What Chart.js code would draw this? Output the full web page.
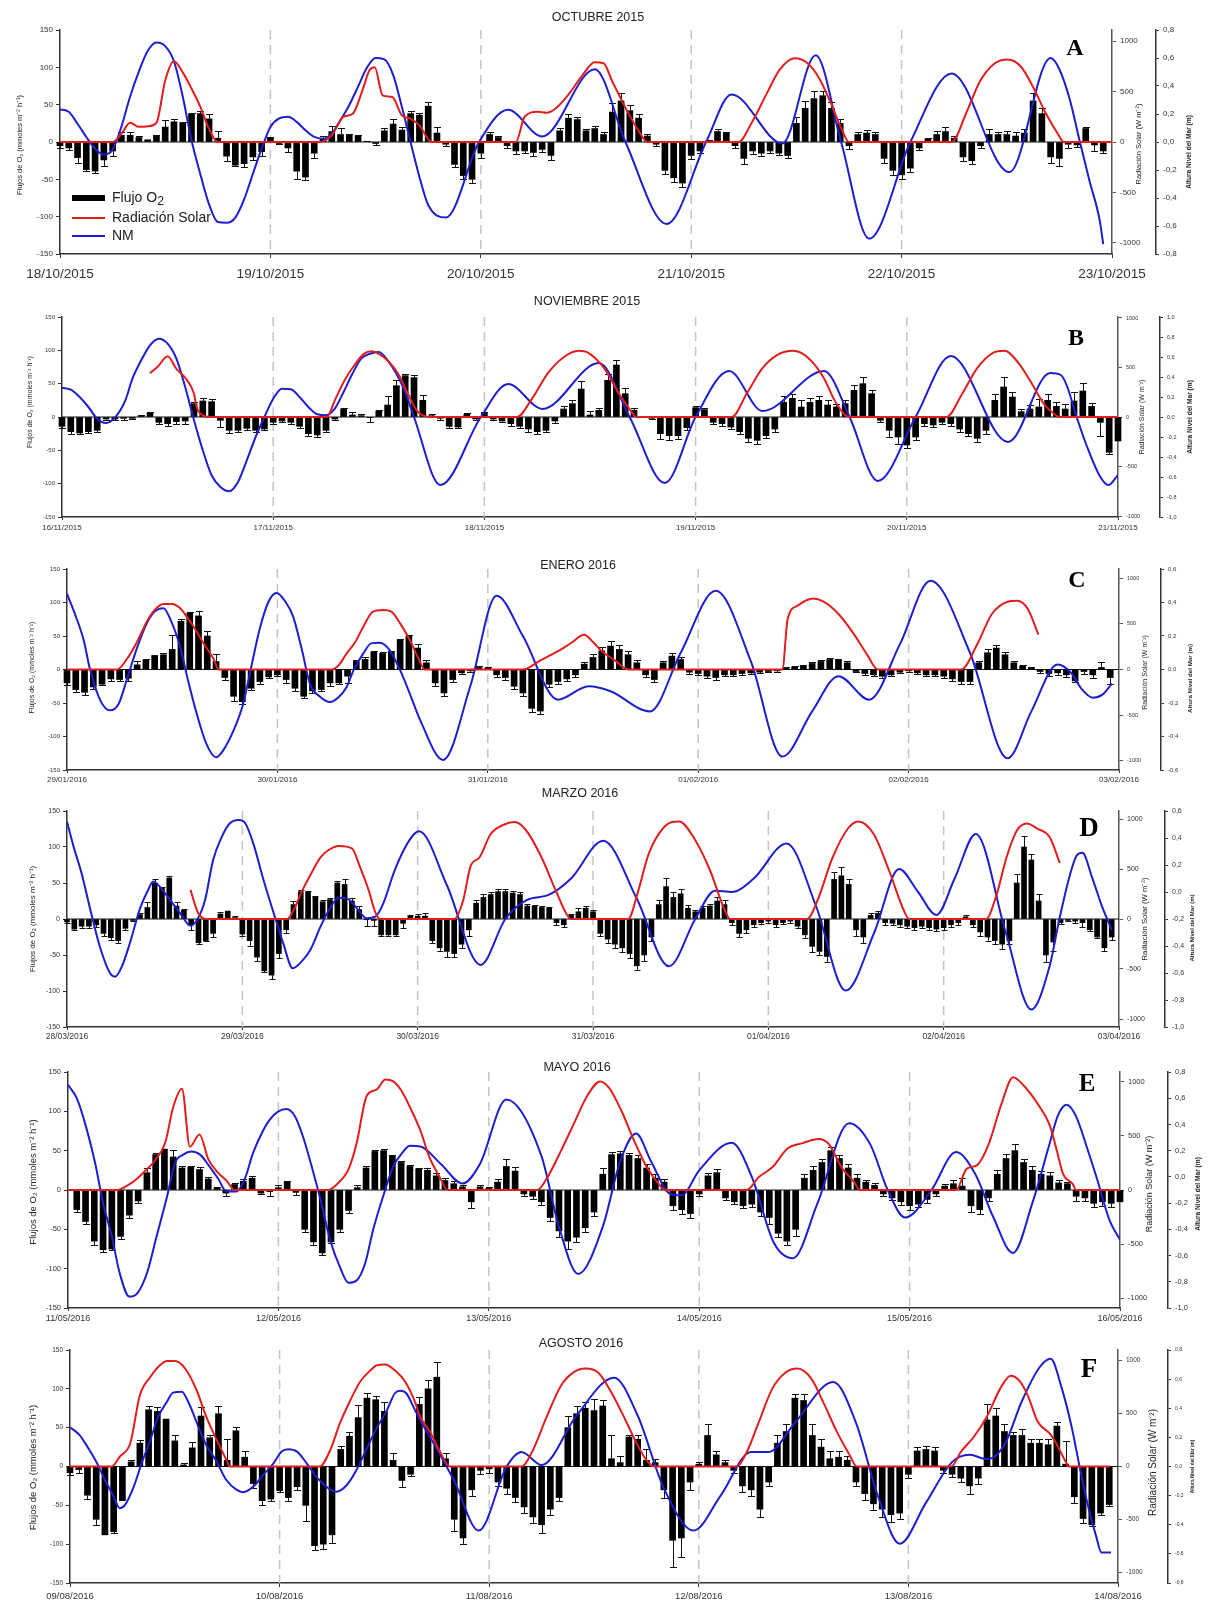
<!DOCTYPE html>
<html><head><meta charset="utf-8">
<script src="https://cdn.jsdelivr.net/npm/chart.js@4.4.1/dist/chart.umd.min.js"></script>
<style>
html,body{margin:0;padding:0;background:#fff;}
#wrap{position:relative;width:1209px;height:1604px;overflow:hidden;font-family:"Liberation Sans",Arial,Helvetica,sans-serif;}
#wrap canvas{position:absolute;left:0;}
.ttl{position:absolute;font-size:12.5px;line-height:14px;color:#222;transform:translateX(-50%);white-space:nowrap;}
.let{position:absolute;font-family:"Liberation Serif","Times New Roman",serif;font-weight:bold;line-height:1;transform:translate(-50%,-50%);color:#000;}
.lg{position:absolute;left:72px;font-size:14px;line-height:18px;color:#222;white-space:nowrap;}
.lg i{display:inline-block;width:33px;vertical-align:middle;margin-right:7px;}
</style></head>
<body><div id="wrap"></div>
<script>
// ---------------- DATA ----------------
const fluxTicks = [-150,-100,-50,0,50,100,150];
const radTicks = [-1000,-500,0,500,1000];

// Panel A  OCTUBRE 2015
const datesA = ["18/10/2015","19/10/2015","20/10/2015","21/10/2015","22/10/2015","23/10/2015"];
const nmTicksA = [-0.8,-0.6,-0.4,-0.2,0,0.2,0.4,0.6,0.8];
const fluxA = [-5,-8,-21,-37,-39,-24,-12,9,9,6,3,8,20,27,26,38,38,31,5,-19,-31,-29,-20,-13,
6,-2,-8,-39,-47,-15,4,14,10,9,9,1,-2,15,24,16,38,36,48,12,-3,-30,-45,-50,
-15,10,6,-5,-12,-12,-14,-10,-18,15,32,30,15,18,10,40,55,42,32,8,-3,-38,-48,-55,
-18,-12,2,14,12,-5,-22,-12,-15,-12,-15,-18,25,45,58,62,45,25,-5,10,12,10,-22,-38,
-44,-35,-8,4,10,14,5,-20,-25,-5,10,10,10,8,12,55,38,-20,-22,-3,-4,18,-4,-12];
const errA = [3,3,7,2,3,8,7,4,5,2,0,1,10,4,1,1,4,7,10,6,1,4,4,6,
1,1,6,10,4,6,4,8,9,2,1,1,2,4,7,4,3,3,6,8,2,4,5,5,
6,3,2,3,4,3,5,3,6,4,5,4,3,3,4,12,10,8,6,3,2,5,6,5,
5,3,1,3,2,3,8,4,4,3,3,4,8,10,10,6,8,6,5,3,4,3,6,6,
5,5,3,2,5,6,3,5,5,3,8,4,5,6,5,10,8,8,10,5,3,2,8,3];
const radHoursA = [0,6,7,8,9,10,11,12,13,14,15,16,17,18, 29.5,31,32.3,33.4,34.5,35.3,35.9,36.8,37.9,39,40,41,42.4, 52,53,54.5,55.5,56.5,58,59.5,61,62,63,64.5,66,67, 77.4,78.9,80.7,82.1,83.8,85.3,86.5,87.9,89.1,90, 101.7,103.4,104.9,106.6,108.1,109.6,111,112.4,113.9,114.5,120];
const radA = [0,0,80,190,150,155,190,610,800,690,530,350,130,0, 0,66,248,280,512,710,742,462,446,264,230,165,0, 0,250,300,290,330,470,650,790,780,600,340,110,0, 0,190,494,717,829,778,646,393,139,0, 0,292,595,778,818,748,545,292,70,0,0];
const nmHoursA = [0,1,2,3,4,5,6,7,8,9,10,11,12,13,14,15,16,17,18,19,20,21,22,23,24,25,26,27,28,29,30,31,32,33,34,35,36,37,38,39, 41,42,44,47.8,51.1,55,61,64.5,69.2,73.7,76.6,82.4,86.2,89.1,92.3,97,101.7,108.3,113,114,115.2,116.3,117.4,118.6,119];
const nmA = [0.233,0.216,0.13,0.036,-0.048,-0.09,-0.055,0.108,0.325,0.505,0.65,0.71,0.685,0.577,0.325,0.012,-0.228,-0.445,-0.572,-0.577,-0.54,-0.41,-0.228,-0.048,0.108,0.168,0.18,0.144,0.084,0.036,0.024,0.06,0.156,0.264,0.396,0.53,0.6,0.59,0.48,0.25, -0.25,-0.45,-0.54,0,0.23,0.04,0.52,0,-0.585,0,0.34,-0.01,0.62,0,-0.69,0,0.49,-0.215,0.6,0.52,0.30,0.01,-0.27,-0.56,-0.73];

// Panel B  NOVIEMBRE 2015
const datesB = ["16/11/2015","17/11/2015","18/11/2015","19/11/2015","20/11/2015","21/11/2015"];
const nmTicksB = [-1.0,-0.8,-0.6,-0.4,-0.2,0,0.2,0.4,0.6,0.8,1.0];
const fluxB = [-14,-22,-24,-22,-20,-3,-3,-2,-2,2,6,-8,-10,-7,-6,20,24,23,-5,-20,-20,-17,-20,-18,
-8,-6,-8,-14,-25,-27,-20,-3,12,3,2,-1,9,18,47,62,59,25,2,-2,-14,-15,4,-3,
6,-3,-6,-10,-14,-18,-22,-20,-6,12,20,42,3,10,55,78,35,10,0,-2,-25,-28,-28,-16,
14,11,-8,-10,-15,-22,-32,-35,-28,-18,22,28,15,22,25,18,15,20,40,50,35,-5,-20,-30,
-42,-30,-10,-12,-8,-10,-18,-25,-32,-20,25,45,30,8,12,15,25,16,12,24,39,16,-8,-53,-36];
const errB = [2,3,1,2,3,2,2,3,1,1,2,3,3,3,4,3,5,4,10,4,3,2,3,1,
2,1,3,3,3,3,3,2,1,4,3,6,1,14,8,3,4,8,2,2,3,2,2,2,
2,2,2,3,3,4,4,3,3,5,5,12,6,4,10,8,8,4,0,1,8,6,5,4,
2,2,2,3,3,4,5,5,4,4,10,6,10,6,6,8,5,6,8,10,5,3,10,10,
5,4,3,3,3,3,4,4,5,5,10,15,8,4,6,12,10,7,8,13,12,5,20,3,0];
const radHoursB = [10,10.9,12,13,14,15,15.3,16,16.8, 30.1,31,32.1,33.2,34.3,35.2,36,37,38.2,39.3,40.3,41,42, 51.7,53.4,55.2,56.9,58.7,59.8,61.6,63.3,64.5,65.3, 76.1,77.8,79.6,81.3,83.1,84.8,86.6,87.7,88.9,89.5, 100.5,102.3,104,105.8,107.1,108.7,110.2,111.6,112.8,113.3,120];
const radB = [443,510,614,487,396,235,100,17,0, 0,168,369,520,638,664,638,570,436,235,67,17,0, 0,183,441,596,668,648,493,235,80,0, 0,235,493,627,668,596,390,183,28,0, 0,235,493,648,668,544,338,131,28,0,0];
const nmHoursB = [0,1,2,3,4,5,6,7.2,8,9,10,11,12,13,14,15,16,17,18,19,20,21,22,23,24,25,26,27,28,29,30,31,32,33,34,35,36,37,38,39,40, 43,47.6,50.7,54.6,61,64.5,68.5,72,75.8,79.6,86.6,89.5,92.7,97,101,107.5,112.3,113.5,114.2,115.3,116.5,118,118.9,120];
const nmB = [0.293,0.273,0.2,0.1,-0.017,-0.06,-0.007,0.167,0.383,0.567,0.717,0.783,0.733,0.583,0.3,-0.033,-0.333,-0.583,-0.7,-0.743,-0.65,-0.433,-0.2,0,0.183,0.283,0.277,0.2,0.1,0.027,0.017,0.083,0.25,0.433,0.583,0.633,0.65,0.567,0.433,0.25,0, -0.68,0,0.33,0.08,0.54,0,-0.66,0,0.46,0.06,0.46,0,-0.64,0,0.61,-0.25,0.44,0.42,0.31,0,-0.3,-0.6,-0.68,-0.58];

// Panel C  ENERO 2016
const datesC = ["29/01/2016","30/01/2016","31/01/2016","01/02/2016","02/02/2016","03/02/2016"];
const nmTicksC = [-0.6,-0.4,-0.2,0,0.2,0.4,0.6];
const fluxC = [-20,-30,-34,-26,-22,-14,-15,-13,7,14,21,22,30,72,84,80,50,12,-12,-40,-48,-28,-18,-11,
-8,-15,-28,-40,-32,-30,-20,-20,-10,12,15,26,24,27,45,50,32,10,-20,-35,-15,-5,-2,3,
2,-8,-12,-25,-35,-58,-62,-22,-18,-14,-8,8,18,28,35,30,22,10,-8,-15,10,20,15,-4,
-6,-10,-12,-8,-8,-6,-5,-4,-3,-2,2,4,6,9,12,15,14,10,-3,-6,-8,-10,-8,-4,
-2,-5,-8,-8,-10,-14,-18,-18,10,25,32,22,10,5,3,-3,-6,-5,-8,-17,-3,-8,3,-12];
const errC = [3,3,4,3,1,3,2,4,5,1,0,3,22,3,2,7,7,11,3,7,3,2,3,2,
2,5,4,3,3,2,5,1,10,2,3,2,2,0,1,1,6,4,5,5,3,2,1,2,
1,3,3,4,5,5,5,4,3,3,3,3,5,5,8,6,5,4,3,4,3,5,4,2,
2,3,3,2,2,2,2,1,1,1,1,1,1,2,2,2,2,2,1,2,2,2,2,1,
1,2,2,2,3,3,4,4,3,5,5,4,3,2,1,2,3,3,3,1,3,4,8,9];
const radHoursC = [0,5.7,6.8,8,9.1,10,11,12,12.9,13.8,14.8,15.7,16.7,17.3, 30.2,31,31.9,32.9,33.8,34.9,36.1,37,38,39.1,40.1,40.8, 52,54,56,57.5,59,60,61,62.5,64, 81.6,82.2,83.3,85.1,86.3,88,89.8,91.3,92.5, 102,103.8,105.5,107.3,108.4,109.6,110.8];
const radC = [0,0,110,304,524,652,718,718,670,560,414,267,121,0, 0,48,176,304,469,634,652,634,505,322,121,0, 0,100,200,290,380,300,200,100,0, 0,550,697,776,742,607,382,157,0, 0,270,607,742,753,663,382];
const nmHoursC = [0,0.9,1.9,2.6,3.8,4.9,5.9,6.8,7.9,9.1,10,11,11.9,12.9,13.8,14.8,15.9,17,17.8,19,20.1,21.1,22,23,23.9,24.9,25.8,26.8,27.7,28.9,30,31,31.9,32.7,33.8,34.7,35.7,36.8,38,39.1,40.3, 42.9,46,49,52,56,59.5,62,66.5,70,74,78,81.6,85,88,91.5,95,98.5,103,107.3,110,113,114.6,115.7,117,118.1,119.2];
const nmC = [0.452,0.332,0.176,0.006,-0.184,-0.244,-0.204,-0.064,0.116,0.276,0.346,0.366,0.286,0.136,-0.064,-0.264,-0.444,-0.524,-0.484,-0.364,-0.204,0.036,0.246,0.406,0.456,0.406,0.316,0.116,-0.084,-0.164,-0.194,-0.164,-0.104,-0.004,0.096,0.156,0.16,0.116,-0.004,-0.144,-0.304, -0.54,-0.1,0.44,0.2,-0.18,-0.1,-0.13,-0.25,0.1,0.47,0.05,-0.52,-0.25,-0.04,-0.18,0.15,0.53,0.1,-0.53,-0.25,0.03,-0.024,-0.114,-0.168,-0.15,-0.084];

// Panel D  MARZO 2016
const datesD = ["28/03/2016","29/03/2016","30/03/2016","31/03/2016","01/04/2016","02/04/2016","03/04/2016"];
const nmTicksD = [-1.0,-0.8,-0.6,-0.4,-0.2,0,0.2,0.4,0.6];
const fluxD = [-4,-14,-10,-10,-8,-20,-26,-30,-13,-2,6,16,50,44,57,18,12,-8,-33,-30,-20,7,11,2,
-21,-30,-53,-72,-78,-48,-15,20,38,38,31,24,27,50,48,25,13,-1,-2,-22,-22,-22,-6,4,
4,4,-30,-40,-45,-48,-35,-15,22,30,34,38,38,36,34,18,18,16,15,-5,-8,5,10,15,
10,-20,-28,-35,-40,-48,-65,-50,-25,20,45,30,35,15,10,15,18,25,20,-5,-20,-15,-8,-5,
-3,-8,-5,-3,-10,-22,-38,-45,-52,55,60,48,-15,-25,5,8,-5,-6,-8,-10,-12,-10,-12,-14,
-12,-8,-5,3,-8,-18,-25,-30,-35,-30,50,100,82,25,-50,-32,-5,-2,-3,-5,-15,-25,-40,-25];
const errD = [2,1,3,3,3,3,3,3,2,1,3,7,6,1,3,5,2,7,2,1,5,3,0,2,
2,7,5,1,5,6,4,5,2,1,1,2,2,3,7,4,5,9,8,1,1,2,6,2,
3,4,4,5,8,5,5,8,5,5,4,3,3,3,3,3,2,2,2,3,3,2,5,3,
2,4,5,5,6,6,6,8,5,6,12,8,6,5,3,3,3,5,6,3,5,4,3,2,
2,3,2,2,3,5,8,5,8,10,12,8,8,8,3,3,4,3,3,3,3,3,3,3,
3,3,3,2,3,5,5,5,6,5,12,15,8,10,10,12,2,1,2,6,1,2,4,4];
const radHoursD = [16.9,17.8,18.2,18.9, 30.1,31,32.1,33.3,34.7,35.8,37.2,39,40.1,41.3,42.2,42.9, 53,54.2,55.3,56.4,58,60,61.3,62.7,64.8,66.9,68.3,69, 76.8,78.2,79.6,81.8,83.8,85.9,88,90.1,90.8, 101.3,102.7,104.8,106.9,108.3,110.4,112.5,114.6,115.3, 125.8,127.2,128.6,130,131.4,132.8,134.5,135.9];
const radD = [293,84,34,0, 0,84,269,438,616,690,731,707,522,286,67,0, 0,180,540,610,850,950,970,900,640,285,60,0, 0,284,646,925,976,800,490,77,0, 0,180,615,905,976,852,490,77,0, 0,232,615,883,955,904,820,560];
const nmHoursD = [0,0.9,2,3.2,4.5,5.9,6.6,7.5,8.6,10,11.1,11.8,12.7,14.1,15.5,16.9,17.8,18.9,20,21.2,22.3,23.5,24.4,25.5,26.9,28.3,29.6,30.9,32.1,33.3,34.7,36,37.2,38.3,39.7,41,42.2,43.3,44.7,46.1,47.4,48.2, 52,56.6,60,62.9,66,69,73.4,78,82.4,86,88.7,91,94,98.5,102.5,106.6,110.5,113.9,116.5,119,121.5,124.4,128.5,132,134.5,135.8,137.2,138.2,139,140.3,141.7,143];
const nmD = [0.521,0.336,0.138,-0.133,-0.405,-0.602,-0.627,-0.553,-0.38,-0.121,0.015,0.077,0.04,-0.059,-0.158,-0.249,-0.207,-0.059,0.237,0.41,0.509,0.533,0.509,0.36,0.089,-0.158,-0.38,-0.565,-0.516,-0.43,-0.257,-0.121,-0.042,-0.047,-0.121,-0.195,-0.183,-0.084,0.138,0.311,0.422,0.45, 0.05,-0.54,-0.2,-0.06,-0.02,0.1,0.38,-0.05,-0.55,-0.2,0.01,0.0,0.1,0.36,-0.1,-0.73,-0.3,0.17,0.0,-0.17,0.1,0.43,-0.3,-0.87,-0.55,-0.21,0.11,0.27,0.29,0.11,-0.11,-0.28];

// Panel E  MAYO 2016
const datesE = ["11/05/2016","12/05/2016","13/05/2016","14/05/2016","15/05/2016","16/05/2016"];
const nmTicksE = [-1.0,-0.8,-0.6,-0.4,-0.2,0,0.2,0.4,0.6,0.8];
const fluxE = [null,-25,-40,-65,-76,-75,-59,-32,-14,22,45,52,42,28,29,26,14,3,-4,7,11,15,-4,-2,
3,10,-3,-50,-66,-80,-66,-50,-26,3,28,49,50,43,35,30,27,25,18,12,8,4,-15,4,
2,10,30,24,-5,-8,-15,-35,-52,-65,-60,-48,-28,20,45,46,44,40,28,15,10,-20,-25,-30,
-5,18,22,-10,-15,-20,-18,-28,-35,-55,-65,-50,15,25,35,50,40,28,15,10,6,-5,-10,-15,
-20,-18,-12,-5,5,8,5,-20,-25,-10,20,40,50,35,25,20,18,9,8,-8,-10,-17,-15,-17,-15];
const errE = [0,3,3,5,3,1,3,3,3,6,2,0,9,3,2,3,3,1,4,2,3,3,1,5,
3,2,3,3,4,2,1,3,3,3,3,2,2,2,2,2,1,3,3,3,3,2,8,2,
2,4,10,5,3,3,4,5,8,10,6,5,5,8,3,3,3,5,5,5,4,5,5,5,
3,4,5,3,3,3,4,5,8,5,5,8,5,5,5,5,5,5,5,3,3,2,3,4,
5,4,4,3,3,5,10,8,5,4,6,6,8,5,5,4,5,4,2,6,4,4,5,5,0];
const radHoursE = [0,5.6,6.7,7.8,9,9.9,11.1,12,13,13.9,15,16,17.1,18.1,19, 29.7,30.6,32,32.9,34.1,35.2,36.2,37.1,38,39,40.2,41.2,42.4,43.3, 53.5,54.7,56.2,57.6,59.3,60.7,61.7,63.1,64.6,66,67.5,68.1, 77.4,78.8,80.4,82.1,83.8,85.6,86.8,88.2,89.7,90.3, 101.3,102.5,103.7,105,106.5,107.8,108.9,110.7,112,112.8,113.5,114.6,115,120];
const radE = [0,0,37,99,192,270,440,766,936,400,512,285,161,84,0, 0,47,192,425,874,927,1020,1004,921,766,549,309,119,0, 0,119,357,595,880,1003,946,737,452,214,43,0, 0,119,214,385,433,471,423,214,71,0, 0,195,230,420,800,1041,975,785,595,363,149,56,0,0];
const nmHoursE = [0,1,2.1,3.1,4,5,5.9,7,7.9,9,10.1,11.3,12.2,13.1,14.1,15.1,16,17.1,18.1,19.2,20.2,21.1,22.3,23,24,24.9,25.9,26.8,27.8,28.9,29.9,31,32,32.9,33.9,34.8,36,37.1,38.1,39,40.2, 42.5,45,47,50,54,56,58.2,61,63,64.8,66.5,68.7,70,72,75.7,78,80.5,82.7,85.5,89.1,91.5,93.5,95.5,98.5,101.3,103.5,105.5,107.8,110,112,112.9,113.9,115,116.2,117.4,118.8,120];
const nmE = [0.702,0.6,0.372,0.104,-0.2,-0.455,-0.735,-0.913,-0.888,-0.735,-0.455,-0.15,0.104,0.168,0.193,0.168,0.092,-0.01,-0.112,-0.112,-0.01,0.181,0.359,0.435,0.499,0.517,0.461,0.308,0.079,-0.2,-0.481,-0.684,-0.807,-0.791,-0.659,-0.405,-0.137,0.079,0.181,0.237,0.232, 0.1,-0.05,0.1,0.59,0.16,-0.38,-0.74,-0.38,0.12,0.33,0.12,-0.13,-0.14,0.05,0.26,0.0,-0.5,-0.62,-0.2,0.41,0.25,-0.1,-0.31,-0.1,0.19,0.02,-0.3,-0.58,-0.2,0.26,0.465,0.55,0.46,0.23,-0.02,-0.33,-0.48];

// Panel F  AGOSTO 2016
const datesF = ["09/08/2016","10/08/2016","11/08/2016","12/08/2016","13/08/2016","14/08/2016"];
const nmTicksF = [-0.8,-0.6,-0.4,-0.2,0,0.2,0.4,0.6,0.8];
const fluxF = [-8,-4,-37,-68,-88,-84,-44,6,30,73,71,61,33,2,24,65,37,68,8,46,12,-22,-44,-42,
-31,-40,-26,-50,-102,-100,-88,22,39,63,88,86,71,8,-18,-10,80,100,115,10,-68,-92,-30,-5,
-3,-20,-28,-40,-52,-65,-75,-55,-40,50,68,75,72,78,10,5,38,35,8,5,-30,-95,-92,-20,
3,40,15,5,-5,-25,-30,-55,-20,30,45,88,85,40,25,10,12,8,-20,-35,-48,-55,-62,-60,
-10,20,22,20,-5,-10,-15,-25,-15,60,65,45,40,40,30,30,28,52,3,-39,-67,-75,-60,-49];
const errF = [3,4,5,7,0,2,0,3,4,5,6,0,8,2,7,11,3,10,27,5,8,6,5,3,
2,5,4,20,5,6,10,5,5,16,7,5,12,9,8,2,10,12,20,8,15,8,8,5,
5,5,8,6,8,8,10,8,5,15,10,8,15,8,30,8,3,5,15,5,10,35,25,10,
3,15,5,3,3,8,8,10,5,10,10,5,8,15,10,10,8,5,5,8,8,10,10,8,
5,5,5,5,3,3,5,10,8,20,10,10,5,8,5,5,8,5,30,8,6,2,2,2];
const radHoursF = [0,4.8,5.7,6.9,8,9.2,10.3,11.1,12,13.2,14.5,15.6,16.8,17.9,18.3, 28.6,29.8,30.9,32.1,33.2,34.4,35.1,36.1,37.2,38.4,39.5,40.1,41.2,42.3,43.5, 51.7,52.9,54.6,56.2,57.6,59,60.5,61.9,63.4,64.8,66,66.9, 76.3,77.5,78.9,80.4,81.9,83.3,84.9,86.3,87.8,89.2,90.1, 100.9,102,103.5,105,106.5,107.7,108.7,109.7,110.8,112.3,113,114,114.4,119.1];
const radF = [0,0,94,219,673,845,955,995,995,923,720,470,250,63,0, 0,156,407,626,798,908,955,964,908,798,610,470,330,150,0, 0,137,473,761,886,925,886,713,473,233,60,0, 0,137,425,733,886,925,828,598,329,118,0, 0,137,281,473,733,858,810,665,425,300,207,47,0,0];
const nmHoursF = [0,1.1,2.1,3.1,4,5,5.7,6.3,7.3,8.2,9.2,10.1,11.1,11.8,12.8,13.7,14.7,15.6,16.8,17.9,19.1,19.8,21,22.1,23.3,24.2,25,26,27.1,28.2,29.6,30.5,31.7,32.8,34,35.1,36.3,37.2,37.8,38.5,39.5,40.1, 42,44,46.8,50,51.7,54,58,62.3,65,68,71.4,74.5,78,80,83,87.4,90,92.5,95,98,101,103,105,107,109,111,112.3,113.5,114.7,115.6,116.6,117.5,118.1,119.2];
const nmF = [0.269,0.216,0.125,0.022,-0.093,-0.207,-0.287,-0.264,-0.138,0.022,0.182,0.342,0.445,0.507,0.514,0.422,0.273,0.148,0.033,-0.093,-0.161,-0.177,-0.138,-0.058,0.022,0.102,0.118,0.102,0.022,-0.07,-0.15,-0.173,-0.127,-0.024,0.125,0.262,0.388,0.503,0.52,0.503,0.388,0.32, 0.12,-0.1,-0.44,0,0.1,0.01,0.35,0.61,0.35,-0.15,-0.44,-0.2,0.1,0.1,0.3,0.58,0.3,-0.2,-0.53,-0.25,0.03,0.08,0.05,0.15,0.45,0.68,0.74,0.55,0.27,0.0,-0.28,-0.48,-0.59,-0.59];

// ---------------- LAYOUT ----------------
const FONT = '"Liberation Sans", Arial, Helvetica, sans-serif';
const RED = '#e01e1e', BLUE = '#1e1ecf', AX = '#333';
Chart.defaults.font.family = FONT;
Chart.defaults.color = '#333';

const layout = [
 {id:'A',title:'OCTUBRE 2015',tx:598,ty:17,lx:1075,ly:47,ls:24, top:0,h:285,PT:30,PB:254,PL:60,PR:1112,Y2:1156,xmax:120,bw:6,xf:13.5,xpad:8,xtl:4,yf:8,r1f:8,r2f:8,rmax:1110,lt:[20,3],t1:[1139,2],t2:[1189,10],ltf:7.5,t1f:7.5,t2f:6.6},
 {id:'B',title:'NOVIEMBRE 2015',tx:587,ty:301,lx:1076,ly:337,ls:24, top:287,h:250,PT:317,PB:517,PL:62,PR:1118,Y2:1160,xmax:120,bw:6,xf:8,xpad:3,xtl:3,yf:6,r1f:5.5,r2f:5.5,rmax:1010,lt:[30,-15],t1:[1142,0],t2:[1190,0],ltf:7,t1f:7,t2f:6.6},
 {id:'C',title:'ENERO 2016',tx:578,ty:565,lx:1077,ly:579,ls:24, top:540,h:245,PT:569,PB:770,PL:67,PR:1119,Y2:1161,xmax:120,bw:6,xf:8,xpad:2,xtl:3,yf:6,r1f:5.5,r2f:6,rmax:1100,lt:[32,-2],t1:[1145,3],t2:[1190,9],ltf:7,t1f:7,t2f:6.2},
 {id:'D',title:'MARZO 2016',tx:580,ty:793,lx:1089,ly:827,ls:27, top:787,h:258,PT:811,PB:1027,PL:67,PR:1119,Y2:1165,xmax:144,bw:5,xf:8.5,xpad:2,xtl:3,yf:7,r1f:7,r2f:7,rmax:1080,lt:[33,0],t1:[1145,0],t2:[1192,9],ltf:8,t1f:7.7,t2f:6},
 {id:'E',title:'MAYO 2016',tx:577,ty:1067,lx:1087,ly:1082,ls:25, top:1047,h:278,PT:1072,PB:1308,PL:68,PR:1120,Y2:1168,xmax:120,bw:6,xf:9,xpad:2.5,xtl:3,yf:7.5,r1f:7.5,r2f:7.5,rmax:1090,lt:[33,-8],t1:[1150,-6],t2:[1198,4],ltf:9.5,t1f:9,t2f:6.6},
 {id:'F',title:'AGOSTO 2016',tx:581,ty:1343,lx:1089,ly:1368,ls:27, top:1327,h:277,PT:1350,PB:1583,PL:70,PR:1118,Y2:1168,xmax:120,bw:6,xf:9.5,xpad:4,xtl:4,yf:6.5,r1f:6.5,r2f:5,rmax:1100,lt:[33,1],t1:[1153,-4],t2:[1193,0],ltf:9.5,t1f:10,t2f:4.8}
];
const series = [
 {dates:datesA,nmTicks:nmTicksA,flux:fluxA,err:errA,radT:radHoursA,rad:radA,nmT:nmHoursA,nm:nmA},
 {dates:datesB,nmTicks:nmTicksB,flux:fluxB,err:errB,radT:radHoursB,rad:radB,nmT:nmHoursB,nm:nmB},
 {dates:datesC,nmTicks:nmTicksC,flux:fluxC,err:errC,radT:radHoursC,rad:radC,nmT:nmHoursC,nm:nmC},
 {dates:datesD,nmTicks:nmTicksD,flux:fluxD,err:errD,radT:radHoursD,rad:radD,nmT:nmHoursD,nm:nmD},
 {dates:datesE,nmTicks:nmTicksE,flux:fluxE,err:errE,radT:radHoursE,rad:radE,nmT:nmHoursE,nm:nmE},
 {dates:datesF,nmTicks:nmTicksF,flux:fluxF,err:errF,radT:radHoursF,rad:radF,nmT:nmHoursF,nm:nmF}
];

const wrap = document.getElementById('wrap');

function vtext(ctx, txt, x, y, font) {
  ctx.save(); ctx.translate(x, y); ctx.rotate(-Math.PI/2);
  ctx.font = font; ctx.fillStyle = '#222'; ctx.textAlign = 'center'; ctx.textBaseline = 'middle';
  ctx.fillText(txt, 0, 0); ctx.restore();
}

function build(L, D) {
  const cv = document.createElement('canvas');
  cv.width = 1209; cv.height = L.h; cv.style.top = L.top + 'px';
  wrap.appendChild(cv);
  const bars = [];
  D.flux.forEach((v, i) => { if (v !== null) bars.push({x: i, y: v}); });
  const pts = (t, v) => t.map((h, i) => ({x: h, y: v[i]}));
  const nDays = D.dates.length - 1;
  const deco = {
    id: 'deco' + L.id,
    beforeDatasetsDraw(chart) {
      const {ctx, chartArea: a, scales: {x, y}} = chart;
      ctx.save();
      ctx.strokeStyle = '#c4c4c4'; ctx.lineWidth = 1.5; ctx.setLineDash([9, 6]);
      for (let k = 1; k < nDays; k++) {
        const px = x.getPixelForValue(k * 24);
        ctx.beginPath(); ctx.moveTo(px, a.top); ctx.lineTo(px, a.bottom); ctx.stroke();
      }
      ctx.setLineDash([]);
      const y0 = y.getPixelForValue(0);
      ctx.strokeStyle = '#111'; ctx.lineWidth = 1;
      ctx.beginPath(); ctx.moveTo(a.left, y0); ctx.lineTo(a.right, y0); ctx.stroke();
      ctx.restore();
    },
    afterDatasetDraw(chart, args) {
      if (args.index !== 2) return;
      const {ctx, scales: {x, y}} = chart;
      const cw = L.bw;
      ctx.save(); ctx.strokeStyle = '#111'; ctx.lineWidth = 1;
      D.flux.forEach((v, i) => {
        const e = D.err[i];
        if (v === null || !e) return;
        const px = Math.round(x.getPixelForValue(i)) + 0.5;
        const ya = y.getPixelForValue(v);
        const yb = Math.round(y.getPixelForValue(v + (v >= 0 ? e : -e))) + 0.5;
        ctx.beginPath(); ctx.moveTo(px, ya); ctx.lineTo(px, yb);
        ctx.moveTo(px - cw / 2 - 0.5, yb); ctx.lineTo(px + cw / 2 + 0.5, yb); ctx.stroke();
      });
      ctx.restore();
    },
    afterDraw(chart) {
      const {ctx, chartArea: a} = chart;
      const cy = (a.top + a.bottom) / 2;
      vtext(ctx, 'Flujos de O\u2082 (mmoles m\u207B\u00B2 h\u207B\u00B9)', L.lt[0], cy + L.lt[1], L.ltf + 'px ' + FONT);
      vtext(ctx, 'Radiaci\u00F3n Solar (W m\u207B\u00B2)', L.t1[0], cy + L.t1[1], L.t1f + 'px ' + FONT);
      vtext(ctx, 'Altura Nivel del Mar (m)', L.t2[0], cy + L.t2[1], 'bold ' + L.t2f + 'px ' + FONT);
    }
  };
  const tk = (size, pad) => ({font: {size: size, family: FONT}, color: '#333', padding: pad});
  const nmT = D.nmTicks;
  new Chart(cv, {
    type: 'bar',
    data: {datasets: [
      {type: 'line', label: 'Radiación Solar', data: pts(D.radT, D.rad), yAxisID: 'y1', borderColor: RED, backgroundColor: RED, borderWidth: 2, pointRadius: 0, cubicInterpolationMode: 'monotone', fill: false, order: 1},
      {type: 'line', label: 'NM', data: pts(D.nmT, D.nm), yAxisID: 'y2', borderColor: BLUE, backgroundColor: BLUE, borderWidth: 2, pointRadius: 0, cubicInterpolationMode: 'monotone', fill: false, order: 2},
      {type: 'bar', label: 'Flujo O2', data: bars, yAxisID: 'y', backgroundColor: '#000', borderWidth: 0, barThickness: L.bw, grouped: false, clip: false, order: 3}
    ]},
    options: {
      responsive: false, animation: false, events: [],
      layout: {padding: {top: L.PT - L.top, left: 0, right: 0, bottom: 0}},
      plugins: {legend: {display: false}, tooltip: {enabled: false}, title: {display: false}},
      scales: {
        x: {type: 'linear', min: 0, max: L.xmax, offset: false,
            afterBuildTicks: s => { s.ticks = D.dates.map((_, k) => ({value: k * 24})); },
            ticks: Object.assign(tk(L.xf, L.xpad), {autoSkip: false, maxRotation: 0, minRotation: 0, callback: v => D.dates[Math.round(v / 24)]}),
            grid: {drawOnChartArea: false, drawTicks: true, tickLength: L.xtl, tickColor: AX, offset: false},
            border: {display: true, color: AX, width: 1.5},
            afterFit: s => { s.height = L.top + L.h - L.PB; }},
        y: {type: 'linear', position: 'left', min: -150, max: 150,
            afterBuildTicks: s => { s.ticks = fluxTicks.map(v => ({value: v})); },
            ticks: Object.assign(tk(L.yf, 3), {callback: v => String(v)}),
            grid: {drawOnChartArea: false, tickLength: 4, tickColor: AX},
            border: {color: AX, width: 1.5},
            afterFit: s => { s.width = L.PL; }},
        y1: {type: 'linear', position: 'right', weight: 1, min: -L.rmax, max: L.rmax,
            afterBuildTicks: s => { s.ticks = radTicks.map(v => ({value: v})); },
            ticks: Object.assign(tk(L.r1f, 4), {callback: v => String(v)}),
            grid: {drawOnChartArea: false, tickLength: 4, tickColor: '#555'},
            border: {color: '#555', width: 1.5},
            afterFit: s => { s.width = L.Y2 - L.PR; }},
        y2: {type: 'linear', position: 'right', weight: 2, min: nmT[0], max: nmT[nmT.length - 1],
            afterBuildTicks: s => { s.ticks = nmT.map(v => ({value: v})); },
            ticks: Object.assign(tk(L.r2f, 4), {callback: v => (Math.abs(v) < 1e-9 ? 0 : v).toFixed(1).replace('.', ',')}),
            grid: {drawOnChartArea: false, tickLength: 3, tickColor: AX},
            border: {color: AX, width: 1.5},
            afterFit: s => { s.width = 1209 - L.Y2; }}
      }
    },
    plugins: [deco]
  });
  const t = document.createElement('div');
  t.className = 'ttl'; t.textContent = L.title;
  t.style.left = L.tx + 'px'; t.style.top = (L.ty - 7) + 'px';
  wrap.appendChild(t);
  const l = document.createElement('div');
  l.className = 'let'; l.textContent = L.id;
  l.style.left = L.lx + 'px'; l.style.top = L.ly + 'px'; l.style.fontSize = L.ls + 'px';
  wrap.appendChild(l);
}

layout.forEach((L, i) => build(L, series[i]));

// legend (panel A)
const legend = [
  {html: 'Flujo O<sub style="font-size:12px;vertical-align:-3px">2</sub>', color: '#000', th: 6, y: 197},
  {html: 'Radiación Solar', color: RED, th: 2, y: 217},
  {html: 'NM', color: BLUE, th: 2, y: 235}
];
legend.forEach(g => {
  const d = document.createElement('div');
  d.className = 'lg'; d.style.top = (g.y - 9) + 'px';
  d.innerHTML = '<i style="height:' + g.th + 'px;background:' + g.color + '"></i>' + g.html;
  wrap.appendChild(d);
});
</script>
</body></html>
